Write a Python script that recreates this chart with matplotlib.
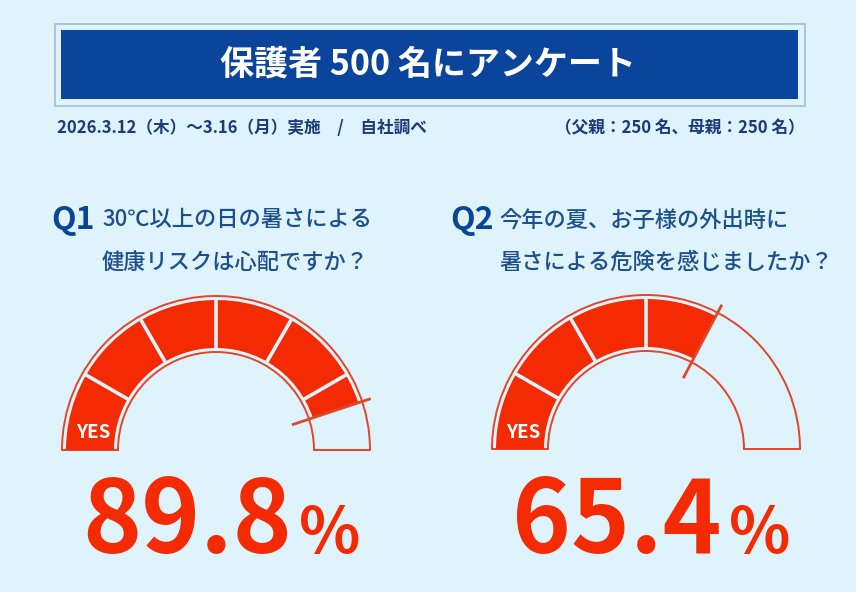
import matplotlib
matplotlib.use("Agg")
import matplotlib.pyplot as plt
from matplotlib.patches import Wedge, Rectangle
import numpy as np

# ---- data ----
title = "保護者 500 名にアンケート"
subtitle_left = "2026.3.12（木）〜3.16（月）実施　/　自社調べ"
subtitle_right = "（父親：250 名、母親：250 名）"
q_labels = ["Q1", "Q2"]
q_line1 = ["30℃以上の日の暑さによる", "今年の夏、お子様の外出時に"]
q_line2 = ["健康リスクは心配ですか？", "暑さによる危険を感じましたか？"]
yes_pct = [89.8, 65.4]
gauge_label = "YES"
n_segments = 6

# ---- style ----
W, H = 856, 592
BG = "#def3fb"
NAVY = "#0a449b"
QBLUE = "#0c4595"
TXTBLUE = "#1d4f8f"
SUBBLUE = "#1a3a78"
RED = "#f42a03"
LINE_RED = "#e2462a"
JP = ["Noto Sans CJK JP", "DejaVu Sans"]

fig = plt.figure(figsize=(W / 100, H / 100), dpi=100)
fig.patch.set_facecolor(BG)
ax = fig.add_axes([0, 0, 1, 1])
ax.set_xlim(0, W)
ax.set_ylim(0, H)
ax.set_aspect("equal")
ax.axis("off")
ax.set_facecolor(BG)


def Y(y):
    return H - y


# title box
ax.add_patch(Rectangle((55, Y(106)), 750, 82, facecolor="none",
                       edgecolor="#9fbedc", lw=1.2))
ax.add_patch(Rectangle((61, Y(99)), 737, 69, facecolor=NAVY, edgecolor="none"))
ax.text(428, Y(64), title, color="white", fontsize=24.5, fontweight="bold",
        family=JP, ha="center", va="center")

ax.text(57, Y(128), subtitle_left, color=SUBBLUE, fontsize=12,
        fontweight="bold", family=JP, ha="left", va="center")
ax.text(805, Y(128), subtitle_right, color=SUBBLUE, fontsize=12,
        fontweight="bold", family=JP, ha="right", va="center")

centers = [(216, 450), (646, 449)]
q_x = [51, 450]
txt_x = [102, 499]

R_OUT_LINE, R_IN_LINE = 154, 98
R_FILL_OUT, R_FILL_IN = 150, 102

for i in range(2):
    cx, cy = centers[i]
    cyd = Y(cy)
    # question header
    ax.text(q_x[i], Y(220), q_labels[i], color=QBLUE, fontsize=23,
            fontweight="bold", family=JP, ha="left", va="center")
    ax.text(txt_x[i], Y(220), q_line1[i], color=TXTBLUE, fontsize=16,
            fontweight="medium", family=JP, ha="left", va="center")
    ax.text(txt_x[i], Y(262), q_line2[i], color=TXTBLUE, fontsize=16,
            fontweight="medium", family=JP, ha="left", va="center")

    # outline of the gauge
    ax.add_patch(Wedge((cx, cyd), R_OUT_LINE, 0, 180,
                       width=R_OUT_LINE - R_IN_LINE, facecolor="none",
                       edgecolor=LINE_RED, lw=1.4))
    # filled part
    theta_end = 180 * (1 - yes_pct[i] / 100)
    ax.add_patch(Wedge((cx, cyd), R_FILL_OUT, theta_end, 180,
                       width=R_FILL_OUT - R_FILL_IN, facecolor=RED,
                       edgecolor="none"))
    # separators
    step = 180 / n_segments
    for k in range(1, n_segments):
        a = 180 - k * step
        if a > theta_end:
            t = np.deg2rad(a)
            ax.plot([cx + (R_FILL_IN - 2) * np.cos(t), cx + (R_FILL_OUT + 2) * np.cos(t)],
                    [cyd + (R_FILL_IN - 2) * np.sin(t), cyd + (R_FILL_OUT + 2) * np.sin(t)],
                    color=BG, lw=2.6, solid_capstyle="butt")
    # marker at the end
    t = np.deg2rad(theta_end)
    ax.plot([cx + 80 * np.cos(t), cx + 163 * np.cos(t)],
            [cyd + 80 * np.sin(t), cyd + 163 * np.sin(t)],
            color=LINE_RED, lw=2.0, solid_capstyle="butt")

    ax.text(cx - 123, Y(433), gauge_label, color="white", fontsize=13.5,
            fontweight="bold", family=JP, ha="center", va="center")

    # big number
    ax.text(cx + 76, Y(553), f"{yes_pct[i]:.1f}", color=RED, fontsize=72,
            fontweight="bold", family=JP, ha="right", va="baseline")
    ax.text(cx + 83, Y(553), "%", color=RED, fontsize=46,
            fontweight="bold", family=JP, ha="left", va="baseline")

fig.savefig("out.png", dpi=100, facecolor=BG)
